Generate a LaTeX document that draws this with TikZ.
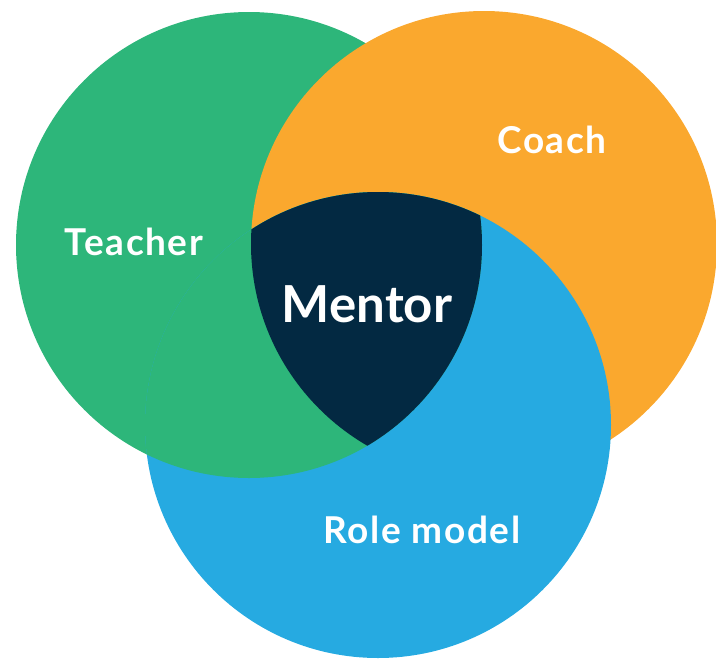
\documentclass[tikz,border=0pt]{standalone}
\usepackage{fontspec}
\setmainfont{Lato}
\newfontfamily\labelfont{Lato}[LetterSpace=4.3]
\definecolor{teachergreen}{RGB}{45,182,122}
\definecolor{coachorange}{RGB}{250,168,46}
\definecolor{rolemodelblue}{RGB}{38,170,225}
\definecolor{mentornavy}{RGB}{3,41,66}
\tikzset{
  label/.style={text=white, font=\labelfont\bfseries\fontsize{37}{40}\selectfont, anchor=base, inner sep=0pt},
  biglabel/.style={label, font=\rmfamily\bfseries\fontsize{51}{55}\selectfont}
}
\begin{document}
\begin{tikzpicture}[x=1pt,y=-1pt]
\useasboundingbox (0,0) rectangle (716,659);
\coordinate (gc) at (249,245);
\coordinate (oc) at (484,244);
\coordinate (bc) at (378,425);
\def\rad{233pt}
% the three circles
\fill[teachergreen] (gc) circle[radius=\rad];
\fill[coachorange] (oc) circle[radius=\rad];
\fill[rolemodelblue] (bc) circle[radius=\rad];
% green lies over blue where they overlap
\begin{scope}
  \clip (gc) circle[radius=\rad];
  \fill[teachergreen] (bc) circle[radius=\rad];
\end{scope}
% common part of all three circles
\begin{scope}
  \clip (gc) circle[radius=\rad];
  \clip (oc) circle[radius=\rad];
  \fill[mentornavy] (bc) circle[radius=\rad];
\end{scope}
% labels
\node[label] (teacher) at (134,255) {Teacher};
\node[label] (coach) at (552,153) {Coach};
\node[biglabel] (mentor) at (367,322) {Mentor};
\node[label] (rolemodel) at (422,543) {Role model};
\end{tikzpicture}
\end{document}
